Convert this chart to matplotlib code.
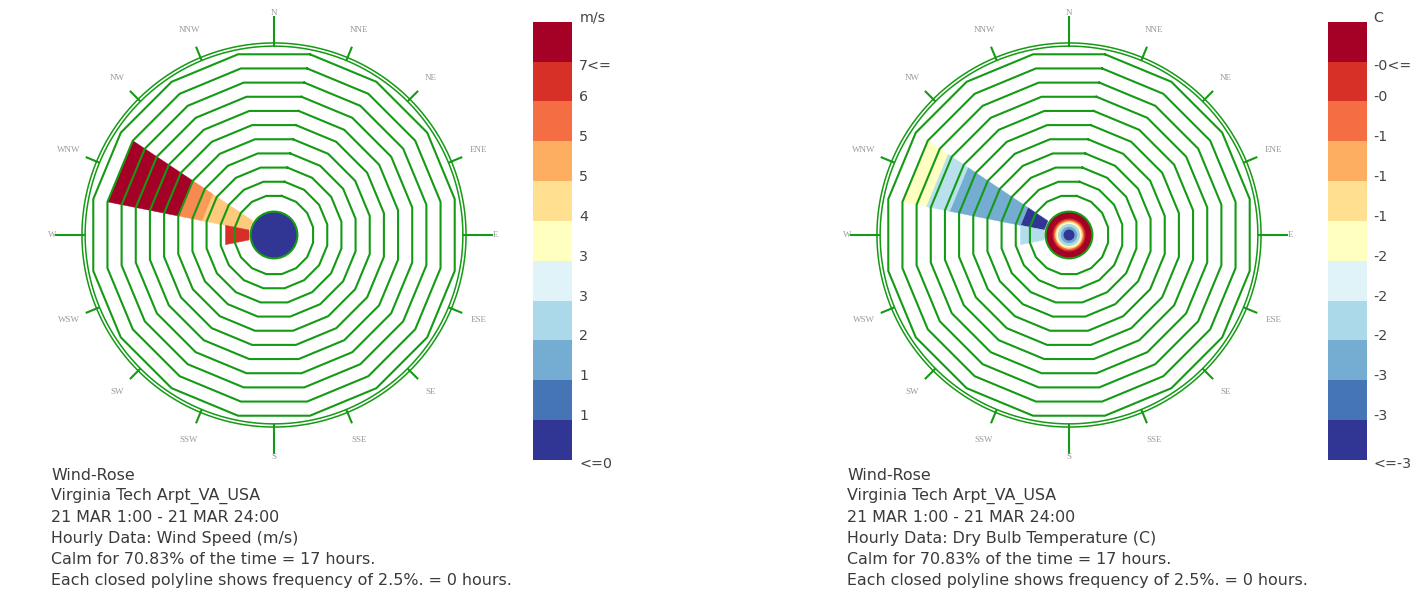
import numpy as np
import matplotlib
matplotlib.use('Agg')
import matplotlib.pyplot as plt
from matplotlib.colors import LinearSegmentedColormap, Normalize
from matplotlib.patches import Polygon, Circle
from matplotlib.transforms import blended_transform_factory

# ---------------- data ----------------
directions = ['N', 'NNE', 'NE', 'ENE', 'E', 'ESE', 'SE', 'SSE',
              'S', 'SSW', 'SW', 'WSW', 'W', 'WNW', 'NW', 'NNW']
total_hours = 24
ring_step_pct = 2.5
n_rings = 11

palette = ['#313695', '#4575b4', '#74add1', '#abd9e9', '#e0f3f8', '#ffffbf',
           '#fee090', '#fdae61', '#f46d43', '#d73027', '#a50026']

# Wind speed rose: stacked segments inner -> outer
speed_seg_dir = ['WNW', 'WNW', 'WNW', 'WNW', 'W']
speed_seg_hours = [2.0, 0.4, 0.6, 3.0, 1.0]
speed_seg_value = [4.5, 5.1, 5.3, 7.2, 6.3]
speed_calm_hours = [17]
speed_calm_value = [0.0]
speed_range = (0.0, 7.0)
speed_legend_labels = ['m/s', '7<=', '6', '5', '5', '4', '3', '3', '2', '1', '1', '<=0']

# Dry bulb temperature rose
temp_seg_dir = ['WNW', 'WNW', 'WNW', 'WNW', 'W']
temp_seg_hours = [1.0, 3.0, 1.0, 1.0, 1.0]
temp_seg_value = [-3.5, -2.78, -2.39, -1.85, -2.42]
temp_calm_hours = [4, 2, 2, 1, 1, 1, 1, 5]
temp_calm_value = [-3.5, -2.8, -2.47, -1.85, -1.54, -0.92, -0.61, -0.3]
temp_range = (-3.4, -0.3)
temp_legend_labels = ['C', '-0<=', '-0', '-1', '-1', '-1', '-2', '-2', '-2', '-3', '-3', '<=-3']

speed_info = ['Wind-Rose', 'Virginia Tech Arpt_VA_USA', '21 MAR 1:00 - 21 MAR 24:00',
              'Hourly Data: Wind Speed (m/s)', 'Calm for 70.83% of the time = 17 hours.',
              'Each closed polyline shows frequency of 2.5%. = 0 hours.']
temp_info = ['Wind-Rose', 'Virginia Tech Arpt_VA_USA', '21 MAR 1:00 - 21 MAR 24:00',
             'Hourly Data: Dry Bulb Temperature (C)', 'Calm for 70.83% of the time = 17 hours.',
             'Each closed polyline shows frequency of 2.5%. = 0 hours.']

# ---------------- style ----------------
W, H = 1412, 598
PX = 5.776            # pixels per 1 % of frequency
CALM_R = 4.4          # wedge start radius (% units)
CALM_DISK_R = 4.05
OUTER_C = [32.7, 33.25]
TICK_IN = 32.9
TICK_MAJ = 37.75
TICK_MIN = 35.1
LABEL_R = 38.4
GREEN = '#149a14'
cmap = LinearSegmentedColormap.from_list('rose', palette)

fig = plt.figure(figsize=(W / 100, H / 100), dpi=100)


def add_axes_px(x0, y0, w, h):
    return fig.add_axes([x0 / W, 1 - (y0 + h) / H, w / W, h / H])


def draw_rose(cx, cy, seg_dir, seg_hours, seg_value, calm_h, calm_v, vrange):
    hw, hh = 240, 235
    ax = add_axes_px(cx - hw, cy - hh, 2 * hw, 2 * hh)
    ax.set_xlim(-hw / PX, hw / PX)
    ax.set_ylim(-hh / PX, hh / PX)
    ax.axis('off')
    norm = Normalize(*vrange, clip=True)
    half = np.deg2rad(11.25)

    # stacked wedges
    cum = {d: 0.0 for d in directions}
    for d, h, v in zip(seg_dir, seg_hours, seg_value):
        b = np.deg2rad(directions.index(d) * 22.5)
        f0 = cum[d]
        f1 = f0 + h / total_hours * 100
        cum[d] = f1
        r0, r1 = CALM_R + f0, CALM_R + f1
        a0, a1 = b - half, b + half
        pts = [(r0 * np.sin(a0), r0 * np.cos(a0)), (r1 * np.sin(a0), r1 * np.cos(a0)),
               (r1 * np.sin(a1), r1 * np.cos(a1)), (r0 * np.sin(a1), r0 * np.cos(a1))]
        c = cmap(norm(v))
        ax.add_patch(Polygon(pts, closed=True, fc=c, ec=c, lw=0.3, zorder=2))

    # closed polylines
    va = np.deg2rad(11.25 + 22.5 * np.arange(17))
    for k in range(1, n_rings + 1):
        r = CALM_R + ring_step_pct * k
        ax.plot(r * np.sin(va), r * np.cos(va), color=GREEN, lw=1.5, zorder=3,
                solid_joinstyle='miter')

    # outer circles
    t = np.linspace(0, 2 * np.pi, 400)
    for r in OUTER_C:
        ax.plot(r * np.sin(t), r * np.cos(t), color=GREEN, lw=1.1, zorder=3)

    # direction ticks and labels
    for i, name in enumerate(directions):
        b = np.deg2rad(i * 22.5)
        r_end = TICK_MAJ if i % 4 == 0 else TICK_MIN
        ax.plot([TICK_IN * np.sin(b), r_end * np.sin(b)],
                [TICK_IN * np.cos(b), r_end * np.cos(b)], color=GREEN, lw=1.5, zorder=3)
        ax.text(LABEL_R * np.sin(b), LABEL_R * np.cos(b), name, ha='center', va='center',
                fontsize=6.5, color='#9a9a9a', family='Liberation Serif', clip_on=False)

    # calm disk
    total_c = float(sum(calm_h))
    cs = np.cumsum(calm_h)
    for cumv, v in sorted(zip(cs, calm_v), key=lambda p: -p[0]):
        ax.add_patch(Circle((0, 0), CALM_DISK_R * cumv / total_c, fc=cmap(norm(v)),
                            ec='none', zorder=4))
    ax.add_patch(Circle((0, 0), CALM_DISK_R, fc='none', ec=GREEN, lw=1.5, zorder=5))
    return ax


def draw_legend(x0, labels, label_x):
    top, bottom, w = 21.7, 460.0, 39.5
    ax = add_axes_px(x0, top, w, bottom - top)
    n = len(palette)
    ax.bar([0] * n, [1] * n, bottom=np.arange(n), width=1.0, color=palette,
           edgecolor='none', align='center')
    ax.set_xlim(-0.5, 0.5)
    ax.set_ylim(0, n)
    ax.axis('off')
    tr = blended_transform_factory(ax.transAxes, ax.transData)
    xa = (label_x - x0) / w
    for j, lab in enumerate(labels):
        y = n - j
        if j == 1 or j == n:
            y -= 0.21
        ax.text(xa, y, lab, transform=tr, ha='left', va='baseline', fontsize=10.3,
                color='#444444', family='DejaVu Sans', clip_on=False)


def draw_info(x, lines):
    y0 = 475.0
    for k, s in enumerate(lines):
        fig.text(x / W, 1 - (y0 + 21.1 * k) / H, s, ha='left', va='center', fontsize=11.4,
                 color='#3a3a3a', family='DejaVu Sans')


draw_rose(274, 235, speed_seg_dir, speed_seg_hours, speed_seg_value,
          speed_calm_hours, speed_calm_value, speed_range)
draw_rose(1069, 235, temp_seg_dir, temp_seg_hours, temp_seg_value,
          temp_calm_hours, temp_calm_value, temp_range)
draw_legend(532.7, speed_legend_labels, 579.3)
draw_legend(1327.5, temp_legend_labels, 1373.3)
draw_info(51, speed_info)
draw_info(847, temp_info)

fig.savefig('out.png', dpi=100, facecolor='white')
